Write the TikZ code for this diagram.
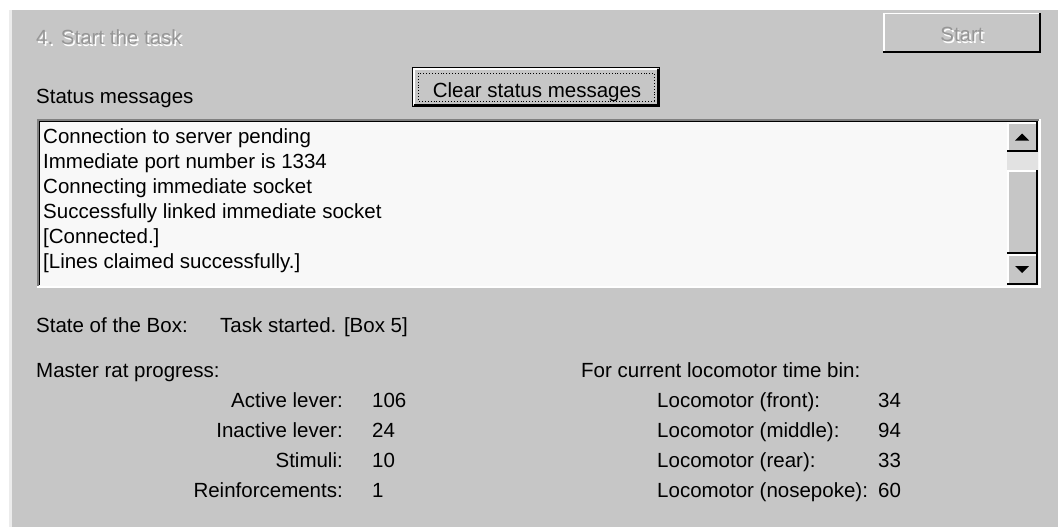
\documentclass[tikz,border=0pt]{standalone}
\usepackage{fontspec}
\setmainfont{Liberation Sans}
\usepackage{xcolor}
\usepackage{tikz}
\usetikzlibrary{positioning,calc}

\definecolor{dlgface}{RGB}{198,198,198}
\definecolor{dlglight}{RGB}{236,236,236}
\definecolor{dlgshadow}{RGB}{128,128,128}
\definecolor{dlggrey}{RGB}{150,150,150}
\definecolor{listbg}{RGB}{248,248,248}
\definecolor{trackbg}{RGB}{226,226,226}

\tikzstyle{lbl} = [anchor=base west, inner sep=0pt, font=\fontsize{20.5}{24}\selectfont]
\tikzstyle{lblr} = [lbl, anchor=base east]
\tikzstyle{greyed} = [lbl, text=dlggrey]
\tikzstyle{greyedsh} = [lbl, text=white]
\tikzstyle{raised} = [fill=dlgface]

\begin{document}
\begin{tikzpicture}[x=1pt, y=-1pt]
    \useasboundingbox (0,0) rectangle (1058,527);
    \fill[white] (0,0) rectangle (1058,527);
    \fill[dlgface] (9,10) rectangle (1058,527);
    \fill[dlglight] (9,10) rectangle (11.5,527);

    % step title and start button (disabled)
    \node[greyedsh] (titlesh) at (37.5,46.5) {4. Start the task};
    \node[greyed] (title) at (36,45) {4. Start the task};
    \fill[raised] (883,13) rectangle (1041,53);
    \draw[white, line width=1.5] (883.75,52) -- (883.75,13.75) -- (1040,13.75);
    \draw[black, line width=2] (883,52) -- (1040,52) -- (1040,13);
    \node[greyedsh, anchor=base] (startsh) at (963.5,43.5) {Start};
    \node[greyed, anchor=base] (start) at (962,42) {Start};

    % clear button (default, focused)
    \node[lbl] (status) at (36,103) {Status messages};
    \fill[raised] (412,67) rectangle (660,107);
    \draw[black, line width=1.2] (412.6,67.6) rectangle (659.4,106.4);
    \draw[white, line width=1.5] (414,105) -- (414,69) -- (657,69);
    \draw[black, line width=2] (414,105) -- (658,105) -- (658,69);
    \draw[black, dotted, line width=0.9] (418,73) rectangle (654,101);
    \node[lbl, anchor=base] (clear) at (537,97) {Clear status messages};

    % list box with messages
    \fill[listbg] (37,119) rectangle (1039,286);
    \draw[dlgshadow, line width=1.5] (37.75,286) -- (37.75,119.75) -- (1039,119.75);
    \draw[black, line width=1.5] (39.25,285) -- (39.25,121.25) -- (1037.5,121.25);
    \draw[white, line width=1.5] (37,286.75) -- (1039.75,286.75) -- (1039.75,119);
    \foreach \msg [count=\i from 0] in {Connection to server pending, Immediate port number is 1334,
        Connecting immediate socket, Successfully linked immediate socket, {[Connected.]},
        {[Lines claimed successfully.]}} {
        \node[lbl] (msg\i) at (43,{143+25*\i}) {\msg};
    }

    % scroll bar
    \fill[trackbg] (1007,122) rectangle (1038,285);
    \foreach \ya/\yb/\nm in {122/152/up, 170/254/thumb, 254/285/down} {
        \fill[raised] (1007,\ya) rectangle (1037,\yb);
        \draw[white, line width=1.5] (1007.75,\yb-1) -- (1007.75,\ya+0.75) -- (1036,\ya+0.75);
        \draw[black, line width=2] (1007,\yb-1) -- (1037,\yb-1) -- (1037,\ya);
        \coordinate (sb\nm) at (1022,{(\ya+\yb)/2});
    }
    \fill[black] ($(sbup)+(-7,3.5)$) -- ($(sbup)+(7,3.5)$) -- ($(sbup)+(0,-3.5)$) -- cycle;
    \fill[black] ($(sbdown)+(-7,-3.5)$) -- ($(sbdown)+(7,-3.5)$) -- ($(sbdown)+(0,3.5)$) -- cycle;

    % box state
    \node[lbl] (state) at (36,332) {State of the Box:};
    \node[lbl] (stateval) at (220,332) {Task started. [Box 5]};

    % master rat counters
    \node[lbl] (master) at (36,377) {Master rat progress:};
    \foreach \lab/\val [count=\i from 0] in {Active lever:/106, Inactive lever:/24, Stimuli:/10, Reinforcements:/1} {
        \node[lblr] (mlab\i) at (343,{407+30*\i}) {\lab};
        \node[lbl] (mval\i) at (372,{407+30*\i}) {\val};
    }

    % locomotor counters
    \node[lbl] (loco) at (581,377) {For current locomotor time bin:};
    \foreach \lab/\val [count=\i from 0] in {Locomotor (front):/34, Locomotor (middle):/94, Locomotor (rear):/33, Locomotor (nosepoke):/60} {
        \node[lbl] (llab\i) at (657,{407+30*\i}) {\lab};
        \node[lbl] (lval\i) at (878,{407+30*\i}) {\val};
    }
\end{tikzpicture}
\end{document}
